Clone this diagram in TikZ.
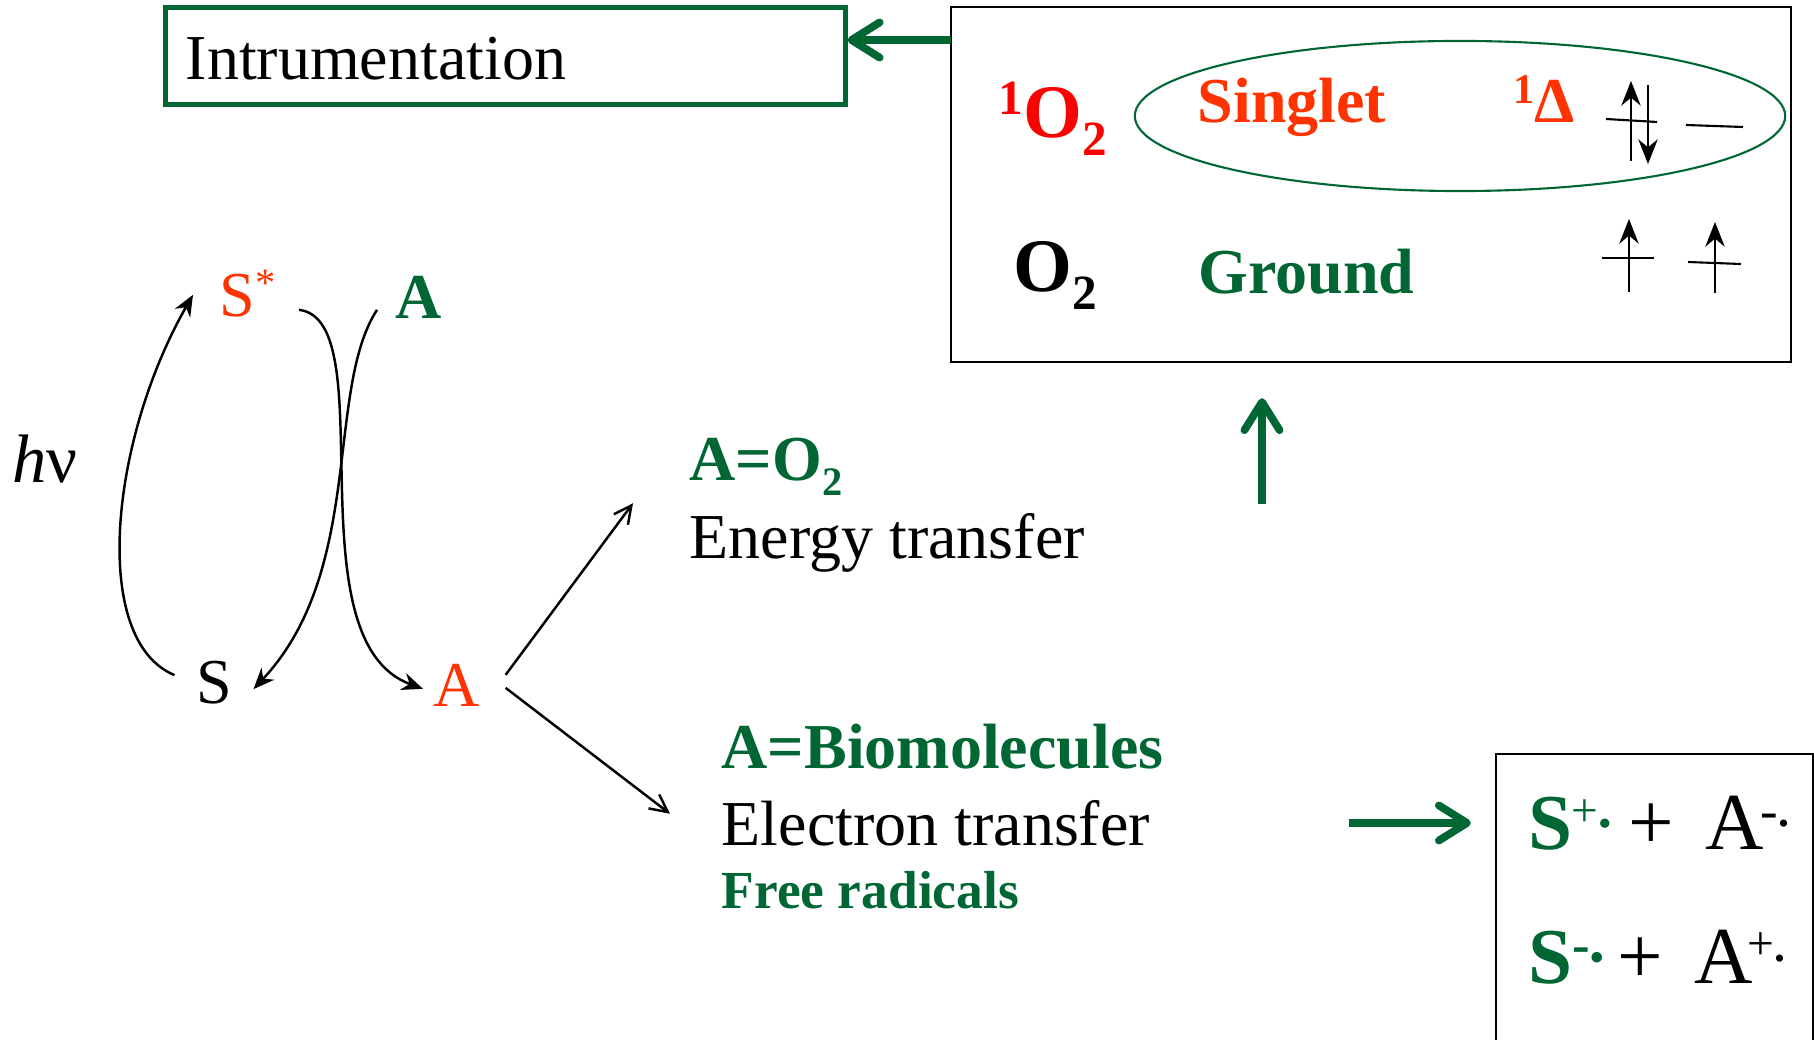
\documentclass[tikz,border=0pt]{standalone}
\usepackage{fontspec}
\setmainfont{Liberation Serif}
\usepackage{xcolor}
\usetikzlibrary{arrows.meta,shapes.geometric}
\definecolor{leafGreen}{HTML}{006633}
\definecolor{hotRed}{HTML}{FF3300}
\definecolor{pureRed}{HTML}{FF0000}
\newcommand{\upmark}[3]{\raisebox{#1}{\fontsize{#2}{#2}\selectfont #3}}
\newcommand{\downmark}[2]{\raisebox{-.23em}{\fontsize{#1}{#1}\selectfont #2}}
\newcommand{\raddot}[2]{\raisebox{-#2}{\fontsize{#1}{#1}\selectfont •}}
\tikzset{
  label18/.style={font=\fontsize{18.2}{20}\selectfont,anchor=base west,inner sep=0pt},
  head18/.style={font=\fontsize{18.2}{20}\selectfont\bfseries,anchor=base west,inner sep=0pt,text=leafGreen},
  molecule/.style={font=\fontsize{21.5}{22}\selectfont\bfseries,anchor=base west,inner sep=0pt},
  radical/.style={font=\fontsize{23}{24}\selectfont,anchor=base west,inner sep=0pt},
  radS/.style={font=\fontsize{22.5}{24}\selectfont\bfseries,anchor=base west,inner sep=0pt,text=leafGreen},
  radmark/.style={font=\fontsize{13.5}{14}\selectfont,anchor=base west,inner sep=0pt},
  frame/.style={draw,line width=0.6pt,inner sep=0pt},
  curve/.style={line width=0.7pt,-{Stealth[length=6pt,width=5pt]}},
  thin arrow/.style={line width=0.7pt,-{Straight Barb[length=5pt,width=5pt]}},
  green arrow/.style={draw=leafGreen,line width=2.2pt,-{Straight Barb[length=8pt,width=10pt,round]}},
  spin/.style={line width=0.6pt},
  spin up/.style={line width=0.7pt,-{Stealth[length=7pt,width=5.5pt]}},
}
\begin{document}
\begin{tikzpicture}[x=0.01cm,y=-0.01cm]
  \useasboundingbox (0,0) rectangle (1814,1040);
  \clip (0,0) rectangle (1814,1040);

  % boxes
  \node[frame,draw=leafGreen,line width=1.4pt,minimum width=6.79cm,minimum height=0.97cm] (instrbox) at (505.5,56) {};
  \node[label18] (instr) at (185,80) {Intrumentation};
  \node[frame,minimum width=8.4cm,minimum height=3.55cm] (bigbox) at (1371,184.5) {};
  \node[frame,minimum width=3.17cm,minimum height=3.4cm] (radbox) at (1654.5,924) {};
  \node[ellipse,draw=leafGreen,line width=0.6pt,inner sep=0pt,minimum width=6.5cm,minimum height=1.5cm] (ring) at (1460,116) {};

  % oxygen states
  \node[molecule,text=pureRed] (singletO) at (998,138) {\upmark{.31em}{14}{1}O\downmark{14}{2}};
  \node[molecule] (groundO) at (1013,292) {O\downmark{14}{2}};
  \node[head18,text=hotRed] (singlet) at (1197,123) {Singlet};
  \node[head18] (ground) at (1198,294) {Ground};
  \node[head18,text=hotRed] (delta) at (1513,123) {\upmark{.31em}{12}{1}Δ};

  % spins
  \coordinate (upA) at (1631,161);   \coordinate (upAtop) at (1631,81);
  \coordinate (downA) at (1648,85);  \coordinate (downAend) at (1648,164);
  \coordinate (levA) at (1606,119);  \coordinate (levAend) at (1657,122);
  \coordinate (levB) at (1686,125);  \coordinate (levBend) at (1743,127);
  \coordinate (upB) at (1629,292);   \coordinate (upBtop) at (1629,219);
  \coordinate (upC) at (1715,293);   \coordinate (upCtop) at (1715,222);
  \coordinate (levC) at (1602,258);  \coordinate (levCend) at (1654,258);
  \coordinate (levD) at (1688,262);  \coordinate (levDend) at (1741,264);
  \draw[spin up] (upA) -- (upAtop);
  \draw[spin up] (downA) -- (downAend);
  \draw[spin up] (upB) -- (upBtop);
  \draw[spin up] (upC) -- (upCtop);
  \draw[spin] (levA) -- (levAend);
  \draw[spin] (levB) -- (levBend);
  \draw[spin] (levC) -- (levCend);
  \draw[spin] (levD) -- (levDend);

  % cycle on the left
  \node[label18,text=hotRed] (Sstar) at (219,317) {S\upmark{.32em}{11.5}{*}};
  \node[head18] (Aground) at (395,319) {A};
  \node[label18,font=\fontsize{19.5}{20}\selectfont] (hnu) at (12,483) {\textit{h}ν};
  \node[label18] (Sbase) at (195.5,704) {S};
  \node[label18,text=hotRed] (Aexc) at (433,707) {A};
  \draw[curve] ([shift={(-21,-8)}]Sbase.west) .. controls (90,640) and (110,440) .. ([shift={(-26,1)}]Sstar.west);
  \draw[curve] ([shift={(80,16)}]Sstar.west) .. controls (385,320) and (290,640) .. ([shift={(-10,3)}]Aexc.west);
  \draw[curve] ([shift={(-18,12)}]Aground.west) .. controls (325,390) and (365,570) .. ([shift={(21,6)}]Sbase.east);

  % text in the middle
  \node[head18] (aOtwo) at (689,481) {A=O\downmark{11.5}{2}};
  \node[label18] (energy) at (689,559) {Energy transfer};
  \node[head18] (aBio) at (721,769) {A=Biomolecules};
  \node[label18] (electron) at (721,846) {Electron transfer};
  \node[head18,font=\fontsize{15.2}{16}\selectfont\bfseries] (free) at (721,909) {Free radicals};
  \draw[thin arrow] ([shift={(25,-11)}]Aexc.east) -- ([shift={(-56,-10)}]energy.north west);
  \draw[thin arrow] ([shift={(25,2)}]Aexc.east) -- ([shift={(-51,-10)}]electron.west);

  % green arrows
  \coordinate (toInstr) at (951,40);
  \coordinate (toBig) at (1262,504);
  \coordinate (toRad) at (1349,823);
  \draw[green arrow] (toInstr) -- (toInstr-|instrbox.east);
  \draw[green arrow,shorten >=0.35cm] (toBig) -- (toBig|-bigbox.south);
  \draw[green arrow,shorten >=0.24cm] (toRad) -- (toRad-|radbox.west);

  % radical pairs
  \node[radS] (Splus) at (1528,850) {S};
  \node[radmark,text=leafGreen] (Splusmark) at (1571,827) {+\raddot{11}{2.6pt}};
  \node[radical] (plusA) at (1628,850) {+};
  \node[radical] (Aminus) at (1705,850) {A};
  \node[radmark,font=\fontsize{15}{16}\selectfont] (Aminusmark) at (1760,829) {-\raddot{8.5}{1.4pt}};
  \node[radS] (Sminus) at (1528,984) {S};
  \node[radmark,font=\fontsize{15}{16}\selectfont\bfseries,text=leafGreen] (Sminusmark) at (1572,962) {-\raddot{11}{2.3pt}};
  \node[radical] (plusB) at (1617,984) {+};
  \node[radical] (Aplus) at (1694,984) {A};
  \node[radmark] (Aplusmark) at (1747,960) {+\raddot{8.5}{2.3pt}};
\end{tikzpicture}
\end{document}
